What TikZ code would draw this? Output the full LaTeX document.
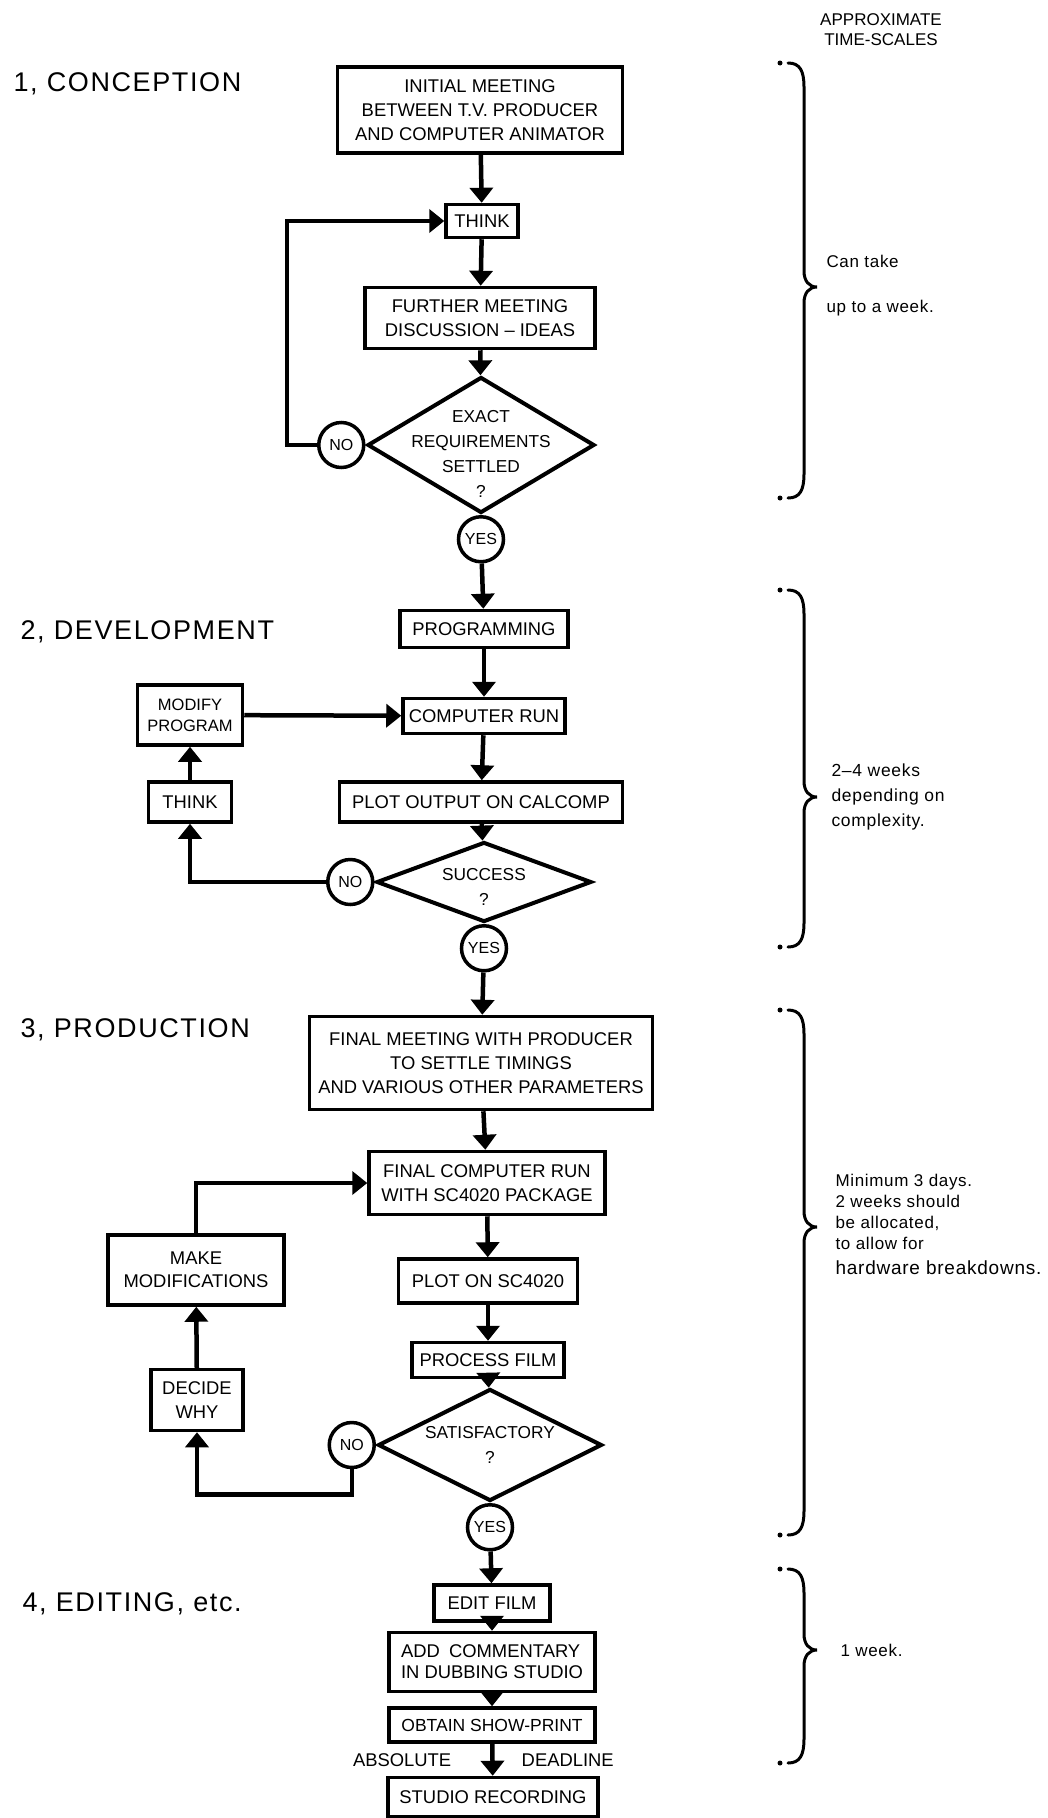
\documentclass[tikz,border=0pt]{standalone}
\usepackage{fontspec}
\setmainfont{Liberation Sans}
\newfontfamily\phasefont[LetterSpace=6]{Liberation Sans}
\newfontfamily\notefont[LetterSpace=4]{Liberation Sans}
\usetikzlibrary{arrows.meta,positioning,shapes.geometric}
\begin{document}
\begin{tikzpicture}[x=1pt,y=-1pt,
    procbox/.style={shape=rectangle,draw=black,line width=3.5pt,align=center,inner sep=3pt,font=\fontsize{18.4}{24}\selectfont},
    dec/.style={shape=diamond,draw=black,line width=4pt,inner sep=0pt},
    dtext/.style={align=center,font=\fontsize{17.3}{25}\selectfont},
    yesno/.style={shape=circle,draw=black,line width=3.5pt,minimum size=45pt,inner sep=0pt,font=\fontsize{16}{18}\selectfont},
    flow/.style={line width=4.5pt,-{Triangle[width=23pt,length=15pt]}},
    lbl/.style={inner sep=0pt,font=\fontsize{18.4}{22}\selectfont},
    phase/.style={anchor=base west,font=\fontsize{27}{30}\phasefont},
    note/.style={anchor=west,align=left,font=\fontsize{17}{21}\notefont},
    tbrace/.style={line width=3pt,line cap=round}]
    \useasboundingbox (0,0) rectangle (1047,1818);

    \node[phase] (p1) at (10,91) {1, CONCEPTION};
    \node[phase] (p2) at (17,639) {2, DEVELOPMENT};
    \node[phase] (p3) at (17,1037) {3, PRODUCTION};
    \node[phase] (p4) at (19,1611) {4, EDITING, etc.};

    \node[procbox,minimum width=285pt,minimum height=86pt] (meet) at (480,110) {INITIAL MEETING\\BETWEEN T.V. PRODUCER\\AND COMPUTER ANIMATOR};
    \node[procbox,minimum width=72pt,minimum height=33pt] (think) at (482,221) {THINK};
    \node[procbox,minimum width=230pt,minimum height=61pt] (further) at (480,318) {FURTHER MEETING\\DISCUSSION – IDEAS};
    \node[dec,minimum width=227pt,minimum height=136pt,label={[dtext,yshift=-9pt]center:EXACT\\REQUIREMENTS\\SETTLED\\?}] (exact) at (481,445) {};
    \node[yesno,left=0pt of exact] (no1) {NO};
    \node[yesno,below=0pt of exact] (yes1) {YES};

    \draw[flow] (meet) -- (think);
    \draw[flow] (think) -- (further);
    \draw[flow] (further) -- (exact);
    \draw[flow] (no1.west) -- ++(-30,0) |- (think.west);

    \node[procbox,minimum width=168pt,minimum height=37pt] (prog) at (484,629) {PROGRAMMING};
    \node[procbox,minimum width=162pt,minimum height=35pt] (run) at (484,716) {COMPUTER RUN};
    \node[procbox,minimum width=283pt,minimum height=40pt] (calcomp) at (481,802) {PLOT OUTPUT ON CALCOMP};
    \node[dec,minimum width=215pt,minimum height=80pt,label={[dtext,yshift=-5pt]center:SUCCESS\\?}] (success) at (484,882) {};
    \node[yesno,left=0pt of success] (no2) {NO};
    \node[yesno,below=0pt of success] (yes2) {YES};
    \node[procbox,minimum width=105pt,minimum height=60pt,font=\fontsize{16.5}{21}\selectfont] (modify) at (190,715) {MODIFY\\PROGRAM};
    \node[procbox,minimum width=83pt,minimum height=40pt] (rethink) at (190,802) {THINK};

    \draw[flow] (yes1) -- (prog);
    \draw[flow] (prog) -- (run);
    \draw[flow] (run) -- (calcomp);
    \draw[flow] (calcomp) -- (success);
    \draw[flow] (no2.west) -| (rethink.south);
    \draw[flow] (rethink) -- (modify);
    \draw[flow] (modify) -- (run);

    \node[procbox,minimum width=343pt,minimum height=93pt] (final) at (481,1063) {FINAL MEETING WITH PRODUCER\\TO SETTLE TIMINGS\\AND VARIOUS OTHER PARAMETERS};
    \node[procbox,minimum width=236pt,minimum height=63pt] (finalrun) at (487,1183) {FINAL COMPUTER RUN\\WITH SC4020 PACKAGE};
    \node[procbox,minimum width=179pt,minimum height=44pt] (sc4020) at (488,1281) {PLOT ON SC4020};
    \node[procbox,minimum width=152pt,minimum height=35pt] (film) at (488,1360) {PROCESS FILM};
    \node[dec,minimum width=224pt,minimum height=112pt,label={[dtext]center:SATISFACTORY\\?}] (satis) at (490,1445) {};
    \node[yesno,left=0pt of satis] (no3) {NO};
    \node[yesno,below=0pt of satis] (yes3) {YES};
    \node[procbox,minimum width=176pt,minimum height=70pt,font=\fontsize{18.4}{23}\selectfont] (modif) at (196,1270) {MAKE\\MODIFICATIONS};
    \node[procbox,minimum width=92pt,minimum height=61pt] (why) at (197,1400) {DECIDE\\WHY};

    \draw[flow] (yes2) -- (final);
    \draw[flow] (final) -- (finalrun);
    \draw[flow] (finalrun) -- (sc4020);
    \draw[flow] (sc4020) -- (film);
    \draw[flow] (film) -- (satis);
    \draw[flow] (no3.south) -- ++(0,25) -| (why.south);
    \draw[flow] (why) -- (modif);
    \draw[flow] (modif.north) |- (finalrun.west);

    \node[procbox,minimum width=116pt,minimum height=36pt] (edit) at (492,1603) {EDIT FILM};
    \node[procbox,minimum width=206pt,minimum height=59pt,align=left,font=\fontsize{18.4}{21}\selectfont] (dub) at (492,1662) {ADD\enspace COMMENTARY\\IN DUBBING STUDIO};
    \node[procbox,minimum width=206pt,minimum height=34pt,font=\fontsize{17.5}{21}\selectfont] (show) at (492,1725) {OBTAIN SHOW-PRINT};
    \node[procbox,minimum width=210pt,minimum height=39pt] (studio) at (493,1797) {STUDIO RECORDING};

    \draw[flow] (yes3) -- (edit);
    \draw[flow] (edit) -- (dub);
    \draw[flow] (dub) -- (show);
    \draw[flow] (show) -- node[lbl,left=39pt] {ABSOLUTE} node[lbl,right=27pt] {DEADLINE} (studio);

    \node[note,anchor=center,align=center,font=\fontsize{17}{20}\selectfont] (scales) at (881,30) {APPROXIMATE\\TIME-SCALES};
    \node[note] (t1) at (823,286) {Can take\\[24pt]up to a week.};
    \node[note,font=\fontsize{17.5}{25}\notefont] (t2) at (828,797) {2–4 weeks\\depending on\\complexity.};
    \node[note] (t3) at (832,1224) {Minimum 3 days.\\2 weeks should\\be allocated,\\to allow for\\[4pt]{\fontsize{19}{24}\selectfont hardware breakdowns.}};
    \node[note] (t4) at (837,1650) {1 week.};

    \foreach \ya/\ym/\yb in {63/287/498,590/797/947,1010/1227/1535,1569/1650/1763}{
        \draw[tbrace] (788,\ya) .. controls (800,\ya) and (804,\ya+8) .. (804,\ya+24) -- (804,\ym-16)
            .. controls (804,\ym-6) and (809,\ym) .. (817,\ym) .. controls (809,\ym) and (804,\ym+6) .. (804,\ym+16)
            -- (804,\yb-24) .. controls (804,\yb-8) and (800,\yb) .. (788,\yb);
        \fill (780,\ya) circle (2.5);
        \fill (780,\yb) circle (2.5);
    }
\end{tikzpicture}
\end{document}
